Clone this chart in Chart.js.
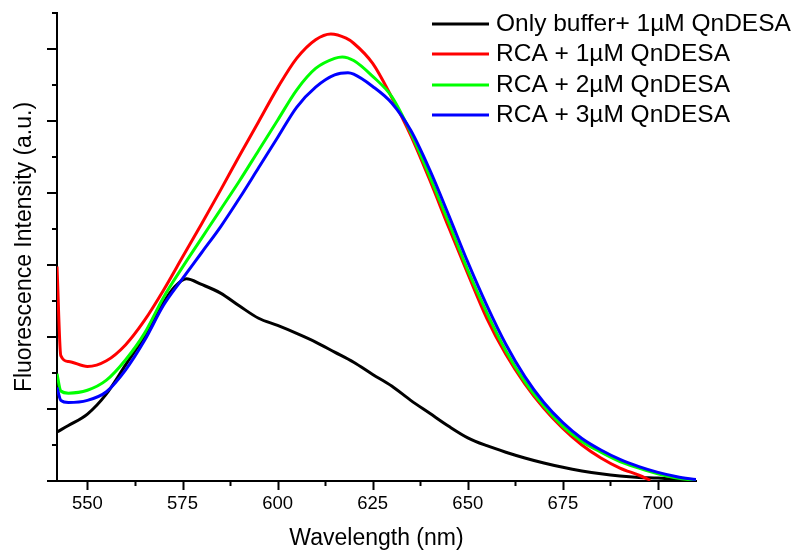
<!DOCTYPE html>
<html>
<head>
<meta charset="utf-8">
<script src="https://cdn.jsdelivr.net/npm/chart.js@4"></script>
<style>
  body { margin: 0; background: #fff; }
</style>
</head>
<body>
<canvas id="chart" width="802" height="556"></canvas>
<script>
// Emission spectra (x = wavelength nm, y = intensity, arbitrary units)
const bufferNm = [542, 545, 550, 555, 560, 565, 570, 573, 576, 580, 585, 590, 595, 600, 605, 610, 615, 620, 625, 630, 635, 640, 645, 650, 655, 660, 665, 670, 675, 680, 685, 690, 695, 700, 705, 710];
const bufferI  = [68, 77, 93, 121, 161, 201, 248, 270, 281, 273, 261, 243, 226, 216, 205, 193, 179, 165, 148, 132, 112, 94, 76, 60, 49, 40, 32, 25, 19, 14, 10, 7, 5, 4, 2, 1];

const rca1Nm = [542, 543, 545, 550, 555, 560, 565, 570, 575, 580, 585, 590, 595, 600, 605, 610, 614, 618, 620, 625, 630, 635, 640, 645, 650, 655, 660, 665, 670, 675, 680, 685, 690, 695, 698];
const rca1I  = [298, 174, 166, 159, 167, 189, 223, 265, 311, 357, 404, 452, 499, 546, 587, 613, 621, 615, 608, 580, 533, 480, 418, 352, 288, 226, 176, 135, 101, 73, 50, 32, 18, 8, 1];

const rca2Nm = [542, 543, 545, 550, 555, 560, 565, 570, 575, 580, 585, 590, 595, 600, 605, 610, 615, 617, 620, 625, 630, 635, 640, 645, 650, 655, 660, 665, 670, 675, 680, 685, 690, 695, 700, 705, 710];
const rca2I  = [149, 125, 122, 126, 140, 168, 205, 255, 297, 337, 377, 417, 459, 501, 543, 573, 587, 589, 584, 562, 534, 484, 423, 359, 293, 234, 181, 138, 104, 76, 55, 40, 27, 18, 10, 4, 1];

const rca3Nm = [542, 543, 545, 550, 555, 560, 565, 570, 575, 580, 585, 590, 595, 600, 605, 610, 615, 618.5, 620, 625, 630, 635, 640, 645, 650, 655, 660, 665, 670, 675, 680, 685, 690, 695, 700, 705, 710];
const rca3I  = [130, 112, 109, 112, 124, 154, 195, 244, 281, 317, 353, 393, 435, 477, 519, 547, 564, 567, 565, 548, 525, 487, 432, 369, 304, 244, 190, 145, 109, 81, 59, 43, 30, 20, 12, 6, 2];

const seriesLabels = ['Only buffer+ 1\u00b5M QnDESA', 'RCA + 1\u00b5M QnDESA', 'RCA + 2\u00b5M QnDESA', 'RCA + 3\u00b5M QnDESA'];
const seriesColors = ['#000000', '#ff0000', '#00ff00', '#0000ff'];

const FONT = 'Arial, "Liberation Sans", sans-serif';

function pts(xs, ys) {
  return xs.map((x, i) => ({ x, y: ys[i] }));
}

// major / minor tick marks on both axes (no y labels in the original)
const tickMarks = {
  id: 'tickMarks',
  afterDraw(chart) {
    const ctx = chart.ctx;
    const xs = chart.scales.x, ys = chart.scales.y;
    const area = chart.chartArea;
    ctx.save();
    ctx.strokeStyle = '#000';
    ctx.lineWidth = 2;
    ctx.beginPath();
    xs.ticks.forEach(t => {
      const px = Math.round(xs.getPixelForValue(t.value)) + 0.5;
      const len = t.value % 25 === 0 ? 9 : 5;
      ctx.moveTo(px, area.bottom);
      ctx.lineTo(px, area.bottom + len);
    });
    ys.ticks.forEach(t => {
      const py = Math.round(ys.getPixelForValue(t.value));
      const len = t.value % 100 === 0 ? 10 : 5;
      ctx.moveTo(area.left, py);
      ctx.lineTo(area.left - len, py);
    });
    ctx.stroke();
    ctx.restore();
  }
};

// legend in the upper right corner, as in the figure
const cornerLegend = {
  id: 'cornerLegend',
  afterDraw(chart) {
    const ctx = chart.ctx;
    const rows = [24, 54, 85, 115];
    ctx.save();
    ctx.font = '24.5px ' + FONT;
    ctx.textBaseline = 'middle';
    chart.data.datasets.forEach((ds, i) => {
      ctx.strokeStyle = ds.borderColor;
      ctx.lineWidth = 3;
      ctx.beginPath();
      ctx.moveTo(432, rows[i]);
      ctx.lineTo(489, rows[i]);
      ctx.stroke();
      ctx.fillStyle = '#000';
      ctx.fillText(ds.label, 496, rows[i]);
    });
    ctx.restore();
  }
};

const series = [
  [bufferNm, bufferI],
  [rca1Nm, rca1I],
  [rca2Nm, rca2I],
  [rca3Nm, rca3I]
];

new Chart(document.getElementById('chart').getContext('2d'), {
  type: 'line',
  data: {
    datasets: series.map((s, i) => ({
      label: seriesLabels[i],
      data: pts(s[0], s[1]),
      borderColor: seriesColors[i],
      borderWidth: 3,
      pointRadius: 0,
      fill: false,
      cubicInterpolationMode: 'monotone',
      order: 3 - i
    }))
  },
  options: {
    responsive: false,
    animation: false,
    layout: { padding: { top: 13, right: 106, left: 0, bottom: 0 } },
    plugins: { legend: { display: false }, tooltip: { enabled: false } },
    scales: {
      x: {
        type: 'linear',
        min: 542,
        max: 710,
        grid: { display: false, drawTicks: false },
        border: { display: true, color: '#000', width: 2 },
        ticks: {
          stepSize: 12.5,
          includeBounds: false,
          autoSkip: false,
          maxRotation: 0,
          padding: 12,
          color: '#000',
          font: { family: FONT, size: 18.5 },
          callback: v => (v % 25 === 0 ? String(v) : '')
        },
        title: {
          display: true,
          text: 'Wavelength (nm)',
          color: '#000',
          font: { family: FONT, size: 23 },
          padding: { top: 0, bottom: 4 }
        },
        afterFit: s => { s.height = 75; }
      },
      y: {
        min: 0,
        max: 650,
        grid: { display: false, drawTicks: false },
        border: { display: true, color: '#000', width: 2 },
        ticks: { stepSize: 50, display: false },
        title: {
          display: true,
          text: 'Fluorescence Intensity (a.u.)',
          color: '#000',
          font: { family: FONT, size: 23 },
          padding: { top: 11, bottom: 0 }
        },
        afterFit: s => { s.width = 57; }
      }
    }
  },
  plugins: [tickMarks, cornerLegend]
});
</script>
</body>
</html>
